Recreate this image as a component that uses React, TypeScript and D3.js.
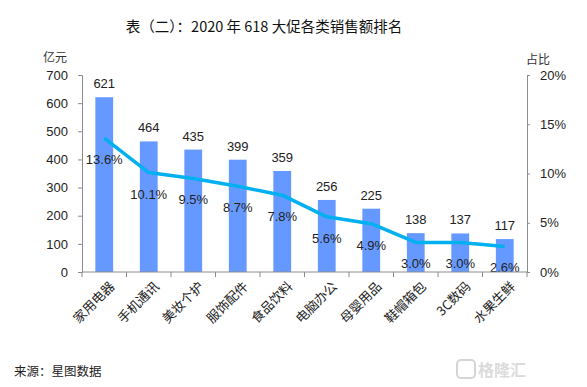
import * as d3 from "d3";
import { useEffect, useRef } from "react";

const categories = ["家用电器", "手机通讯", "美妆个护", "服饰配件", "食品饮料", "电脑办公", "母婴用品", "鞋帽箱包", "3C数码", "水果生鲜"];
const sales = [621, 464, 435, 399, 359, 256, 225, 138, 137, 117];
const shares = [13.6, 10.1, 9.5, 8.7, 7.8, 5.6, 4.9, 3.0, 3.0, 2.6];
const leftTicks = [0, 100, 200, 300, 400, 500, 600, 700];
const rightTicks = [0, 5, 10, 15, 20];

const App = () => {
  const ref = useRef<SVGSVGElement>(null);

  useEffect(() => {
    const svg = d3.select(ref.current);
    svg.selectAll("*").remove();
    const width = 587;
    const height = 387;
    const margin = { top: 75, right: 60, bottom: 115, left: 82 };
    const numFont = "'Liberation Sans', Arial, sans-serif";
    const cjkFont = "'Noto Sans CJK SC', sans-serif";

    svg.attr("width", width).attr("height", height);
    svg.append("rect").attr("width", width).attr("height", height).attr("fill", "#fff");

    const x = d3
      .scaleBand<string>()
      .domain(categories)
      .range([margin.left, width - margin.right])
      .paddingInner(0.6)
      .paddingOuter(0.3);

    const y = d3.scaleLinear().domain([0, 700]).range([height - margin.bottom, margin.top]);
    const y2 = d3.scaleLinear().domain([0, 20]).range([height - margin.bottom, margin.top]);

    // title
    svg
      .append("text")
      .attr("x", 264)
      .attr("y", 32)
      .attr("text-anchor", "middle")
      .attr("font-family", cjkFont)
      .attr("font-size", 14.5)
      .attr("fill", "#111")
      .text("表（二）：2020 年 618 大促各类销售额排名");

    // bars
    svg
      .selectAll("rect.bar")
      .data(sales)
      .enter()
      .append("rect")
      .attr("class", "bar")
      .attr("x", (_, i) => x(categories[i])!)
      .attr("y", (d) => y(d))
      .attr("width", x.bandwidth())
      .attr("height", (d) => y(0) - y(d))
      .attr("fill", "#6699FF");

    // value labels
    svg
      .selectAll("text.val")
      .data(sales)
      .enter()
      .append("text")
      .attr("class", "val")
      .attr("x", (_, i) => x(categories[i])! + x.bandwidth() / 2)
      .attr("y", (d) => y(d) - 9)
      .attr("text-anchor", "middle")
      .attr("font-family", numFont)
      .attr("font-size", 13)
      .attr("fill", "#222")
      .text((d) => d);

    // share line
    const line = d3
      .line<number>()
      .x((_, i) => x(categories[i])! + x.bandwidth() / 2)
      .y((d) => y2(d));

    svg
      .append("path")
      .datum(shares)
      .attr("d", line)
      .attr("fill", "none")
      .attr("stroke", "#00B0F0")
      .attr("stroke-width", 3.5)
      .attr("stroke-linejoin", "round");

    svg
      .selectAll("text.pct")
      .data(shares)
      .enter()
      .append("text")
      .attr("class", "pct")
      .attr("x", (_, i) => x(categories[i])! + x.bandwidth() / 2)
      .attr("y", (d) => y2(d) + 26)
      .attr("text-anchor", "middle")
      .attr("font-family", numFont)
      .attr("font-size", 13)
      .attr("fill", "#222")
      .text((d) => d.toFixed(1) + "%");

    // left axis
    const yAxis = d3.axisLeft(y).tickValues(leftTicks).tickSize(4).tickPadding(10);
    const gl = svg.append("g").attr("transform", `translate(${margin.left},0)`).call(yAxis);
    gl.selectAll("path, line").attr("stroke", "#8c8c8c");
    gl.selectAll("text").attr("font-family", numFont).attr("font-size", 13).attr("fill", "#222");

    // right axis
    const yAxis2 = d3
      .axisRight(y2)
      .tickValues(rightTicks)
      .tickSize(3)
      .tickPadding(10)
      .tickFormat((d) => d + "%");
    const gr = svg.append("g").attr("transform", `translate(${width - margin.right},0)`).call(yAxis2);
    gr.selectAll("path, line").attr("stroke", "#8c8c8c");
    gr.selectAll("text").attr("font-family", numFont).attr("font-size", 13).attr("fill", "#222");

    // bottom axis with ticks at category boundaries
    const base = y(0);
    svg
      .append("line")
      .attr("x1", margin.left)
      .attr("x2", width - margin.right)
      .attr("y1", base)
      .attr("y2", base)
      .attr("stroke", "#8c8c8c");
    const step = x.step();
    const bounds = d3.range(categories.length + 1).map((i) => margin.left + i * step);
    svg
      .selectAll("line.xt")
      .data(bounds)
      .enter()
      .append("line")
      .attr("class", "xt")
      .attr("x1", (d) => d)
      .attr("x2", (d) => d)
      .attr("y1", base)
      .attr("y2", base + 5)
      .attr("stroke", "#8c8c8c");

    svg
      .selectAll("text.cat")
      .data(categories)
      .enter()
      .append("text")
      .attr("class", "cat")
      .attr("transform", (d) => `translate(${x(d)! + x.bandwidth() / 2 + 8},${base + 12}) rotate(-45)`)
      .attr("text-anchor", "end")
      .attr("dy", "0.35em")
      .attr("font-family", cjkFont)
      .attr("font-size", 13)
      .attr("fill", "#222")
      .text((d) => d);

    // axis units
    svg
      .append("text")
      .attr("x", 43)
      .attr("y", 62)
      .attr("font-family", cjkFont)
      .attr("font-size", 12)
      .attr("fill", "#333")
      .text("亿元");
    svg
      .append("text")
      .attr("x", 526)
      .attr("y", 64)
      .attr("font-family", cjkFont)
      .attr("font-size", 12)
      .attr("fill", "#333")
      .text("占比");

    // source
    svg
      .append("text")
      .attr("x", 14)
      .attr("y", 376)
      .attr("font-family", cjkFont)
      .attr("font-size", 12.5)
      .attr("fill", "#222")
      .text("来源：星图数据");

    // watermark
    const wm = svg.append("g").attr("opacity", 0.35);
    wm.append("rect")
      .attr("x", 457)
      .attr("y", 360)
      .attr("width", 18)
      .attr("height", 18)
      .attr("rx", 4)
      .attr("fill", "none")
      .attr("stroke", "#888")
      .attr("stroke-width", 2);
    wm.append("text")
      .attr("x", 478)
      .attr("y", 376)
      .attr("font-family", cjkFont)
      .attr("font-size", 16)
      .attr("font-weight", "bold")
      .attr("fill", "#999")
      .text("格隆汇");
  }, []);

  return <svg ref={ref} style={{ display: "block", position: "absolute", left: 0, top: 0 }}></svg>;
};

export default App;
